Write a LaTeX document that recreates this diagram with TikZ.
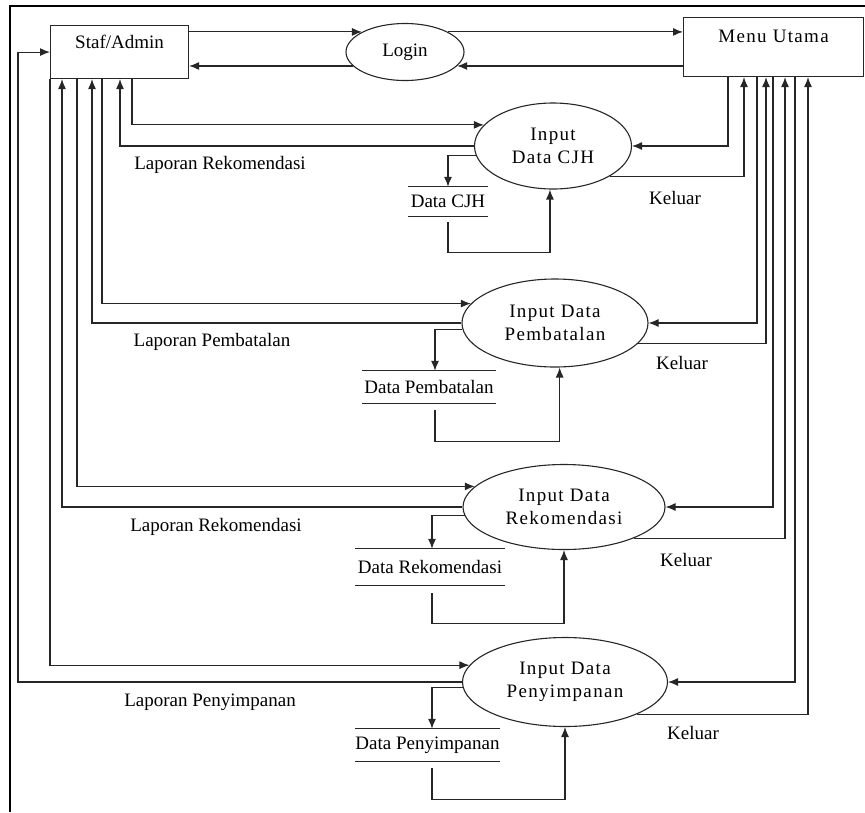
\documentclass[tikz,border=0pt]{standalone}
\usepackage{fontspec}
\setmainfont{Liberation Serif}
\newfontfamily\spacedfont[LetterSpace=7]{Liberation Serif}
\usetikzlibrary{arrows.meta, shapes.geometric}
\tikzset{flow/.style={draw=black!85, line width=1.1pt}}
\tikzset{proc/.style={ellipse, draw=black!85, line width=1.1pt, inner sep=0pt, align=center, font=\spacedfont\fontsize{19}{23}\selectfont}}
\tikzset{entity/.style={rectangle, draw=black!85, line width=1.1pt, inner sep=0pt, anchor=north west}}
\tikzset{store/.style={inner sep=0pt}}
\tikzset{lbl/.style={inner sep=0pt}}

\begin{document}
\begin{tikzpicture}[x=1pt, y=-1pt, >={Latex[length=10pt, width=8pt]}, font=\fontsize{19}{23}\selectfont]
            \useasboundingbox (0,0) rectangle (865,812);
            \draw[line width=1.3pt] (10,812) -- (10,6) -- (865,6);
            % entitas
            \node[entity, minimum width=138pt, text height=23pt, text depth=30pt] (staf) at (50,25) {Staf/Admin};
            \node[entity, minimum width=180pt, text height=24.5pt, text depth=34.5pt, font=\spacedfont\fontsize{19}{23}\selectfont] (menu) at (683,17) {Menu Utama};
            % proses
            \node[proc, minimum width=118pt, minimum height=57pt, font=\fontsize{19}{23}\selectfont] (login) at (405,52) {Login};
            \node[proc, minimum width=157pt, minimum height=86pt] (cjh) at (553,146) {Input\\Data CJH};
            \node[proc, minimum width=186pt, minimum height=88pt] (batal) at (555,323) {Input Data\\Pembatalan};
            \node[proc, minimum width=202pt, minimum height=85pt] (rekom) at (564,507) {Input Data\\Rekomendasi};
            \node[proc, minimum width=205pt, minimum height=89pt] (simpan) at (565,682) {Input Data\\Penyimpanan};
            % data store
            \node[store, minimum width=80pt, minimum height=29pt] (cjhstore) at (448,201.5) {Data CJH};
            \node[store, minimum width=134pt, minimum height=32pt] (batalstore) at (429,387) {Data Pembatalan};
            \node[store, minimum width=150pt, minimum height=36pt] (rekomstore) at (430,567) {Data Rekomendasi};
            \node[store, minimum width=145pt, minimum height=32pt] (simpanstore) at (427.5,745) {Data Penyimpanan};
            \foreach \s in {cjhstore, batalstore, rekomstore, simpanstore} {
                \draw[flow] (\s.north west) -- (\s.north east) (\s.south west) -- (\s.south east);
            }
            % login
            \draw[flow, ->] (staf.east |- login.155) -- (login.155);
            \draw[flow, ->] (login.195) -- (staf.east |- login.195);
            \draw[flow, ->] (login.25) -- (menu.west |- login.25);
            \draw[flow, ->] (menu.west |- login.345) -- (login.345);
            % staf/admin
            \draw[flow, ->] ([xshift=82pt]staf.south west) |- (cjh.163);
            \draw[flow, ->] (cjh.west) -| ([xshift=70pt]staf.south west);
            \draw[flow, ->] ([xshift=52pt]staf.south west) |- (batal.167);
            \draw[flow, ->] (batal.west) -| ([xshift=42pt]staf.south west);
            \draw[flow, ->] ([xshift=27pt]staf.south west) |- (rekom.167);
            \draw[flow, ->] (rekom.west) -| ([xshift=12pt]staf.south west);
            \draw[flow, ->] (staf.south west) |- (simpan.170);
            \draw[flow, ->] (simpan.west) -| ([xshift=-32pt]staf.west) -- (staf.west);
            % menu utama
            \draw[flow, ->] ([xshift=45pt]menu.south west) |- (cjh.east);
            \draw[flow, ->] (cjh.332) -| ([xshift=61pt]menu.south west);
            \draw[flow, ->] ([xshift=74pt]menu.south west) |- (batal.east);
            \draw[flow, ->] (batal.346) -| ([xshift=83pt]menu.south west);
            \draw[flow, ->] ([xshift=90pt]menu.south west) |- (rekom.east);
            \draw[flow, ->] (rekom.336) -| ([xshift=102pt]menu.south west);
            \draw[flow, ->] ([xshift=112pt]menu.south west) |- (simpan.east);
            \draw[flow, ->] (simpan.336) -| ([xshift=125pt]menu.south west);
            % simpan / ambil data
            \draw[flow, ->] (cjh.187) -| (cjhstore.north);
            \draw[flow, ->] ([yshift=-6pt]cjhstore.south) -- ++(0,30) -| (cjh.266);
            \draw[flow, ->] (batal.184) -| ([xshift=6pt]batalstore.north);
            \draw[flow, ->] ([xshift=6pt, yshift=-7pt]batalstore.south) -- ++(0,31) -| (batal.276);
            \draw[flow, ->] (rekom.185) -| ([xshift=2pt]rekomstore.north);
            \draw[flow, ->] ([xshift=2pt, yshift=-8pt]rekomstore.south) -- ++(0,30) -| (rekom.south);
            \draw[flow, ->] (simpan.183) -| ([xshift=4.5pt]simpanstore.north);
            \draw[flow, ->] ([xshift=4.5pt, yshift=-7pt]simpanstore.south) -- ++(0,31) -| (simpan.south);
            % label
            \node[lbl] (lapcjh) at (220,165) {Laporan Rekomendasi};
            \node[lbl] (lapbatal) at (212,342) {Laporan Pembatalan};
            \node[lbl] (laprekom) at (216,527) {Laporan Rekomendasi};
            \node[lbl] (lapsimpan) at (210,702) {Laporan Penyimpanan};
            \node[lbl] (kelcjh) at (675,198) {Keluar};
            \node[lbl] (kelbatal) at (682,363) {Keluar};
            \node[lbl] (kelrekom) at (686,560) {Keluar};
            \node[lbl] (kelsimpan) at (693,733) {Keluar};
        \end{tikzpicture}
\end{document}
